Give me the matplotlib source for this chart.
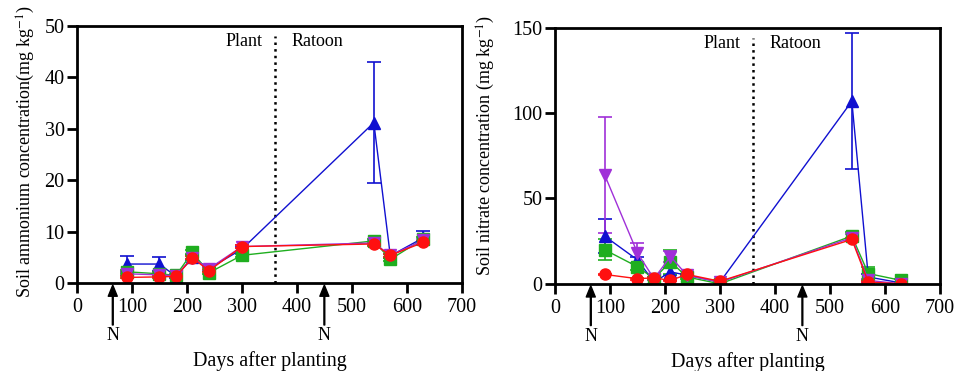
import numpy
import matplotlib
matplotlib.use("Agg")
from matplotlib import pyplot

# -----------------------------------------------------------------------------
# data
days = [90, 150, 180, 210, 240, 300, 540, 570, 630]

# soil ammonium (mg kg-1)
nh4_blue = [3.7, 3.7, 1.3, 5.0, 2.8, 6.6, 31.2, 5.3, 8.8]
nh4_blue_err = [1.5, 1.3, 0.3, 0.5, 0.4, 0.4, 11.8, 0.4, 1.3]
nh4_green = [2.2, 1.8, 1.5, 6.0, 2.0, 5.4, 8.2, 4.6, 8.6]
nh4_green_err = [0.4, 0.3, 0.3, 0.4, 0.3, 0.3, 0.4, 0.3, 0.4]
nh4_purple = [1.8, 1.6, 1.4, 4.9, 2.8, 7.1, 7.8, 5.4, 8.3]
nh4_purple_err = [0.3, 0.3, 0.3, 0.3, 0.3, 0.3, 0.3, 0.3, 0.3]
nh4_red = [1.1, 1.2, 1.3, 4.9, 2.4, 7.1, 7.6, 5.4, 7.9]
nh4_red_err = [0.2, 0.2, 0.2, 0.3, 0.3, 0.3, 0.3, 0.3, 0.3]

# soil nitrate (mg kg-1)
no3_blue = [28.0, 14.0, 1.0, 7.0, 5.0, 1.0, 107.0, 4.0, 0.5]
no3_blue_err = [10.0, 2.0, 1.0, 2.0, 1.0, 0.5, 40.0, 2.0, 0.5]
no3_green = [20.0, 10.0, 3.0, 13.0, 4.0, 0.0, 28.0, 6.0, 2.0]
no3_green_err = [6.0, 2.0, 1.0, 7.0, 1.0, 0.5, 2.5, 4.0, 1.0]
no3_purple = [64.0, 18.0, 3.0, 16.0, 5.0, 1.0, 27.0, 2.0, 0.0]
no3_purple_err = [34.0, 6.0, 1.0, 3.0, 1.0, 0.5, 2.0, 1.0, 0.5]
no3_red = [5.5, 3.0, 3.5, 2.0, 5.5, 1.5, 26.0, 1.0, 0.0]
no3_red_err = [0.5, 0.5, 0.5, 0.5, 0.5, 0.5, 1.0, 0.5, 0.5]

n_days = [65, 450]
season_split = 360

# -----------------------------------------------------------------------------
pyplot.rcParams['font.family'] = ['Liberation Serif', 'DejaVu Serif']
pyplot.rcParams['mathtext.fontset'] = 'stix'

fig = pyplot.figure(figsize=(9.57, 3.71), dpi=100)
ax1 = fig.add_axes([0.0805, 0.237, 0.402, 0.693])
ax2 = fig.add_axes([0.580, 0.235, 0.402, 0.690])


def draw(ax, series, ymax, ystep, ylabel, text_y):
    for y, e, col, mk in series:
        ax.errorbar(days, y, yerr=e, color=col, marker=mk, markersize=8,
                    linewidth=1.0, elinewidth=1.2, capsize=5, capthick=1.2)

    ax.set_xlim(0, 700)
    ax.set_ylim(0, ymax)
    ax.set_xticks(numpy.arange(0, 701, 100))
    ax.set_yticks(numpy.arange(0, ymax + 1, ystep))
    for s in ax.spines.values():
        s.set_linewidth(2.0)
    ax.tick_params(direction='out', length=7, width=2.0, labelsize=14.5)
    ax.tick_params(axis='x', pad=4)
    ax.tick_params(axis='y', pad=2)

    ax.axvline(season_split, ymin=0, ymax=0.96, color='k', linestyle=':',
               linewidth=1.8)
    ax.text(season_split - 22, text_y, 'Plant', ha='right', va='center',
            fontsize=13)
    ax.text(season_split + 30, text_y, 'Ratoon', ha='left', va='center',
            fontsize=13)

    # fertiliser N application arrows
    for nd in n_days:
        ax.annotate('', xy=(nd, -0.008), xytext=(nd, -0.163),
                    xycoords=('data', 'axes fraction'),
                    textcoords=('data', 'axes fraction'),
                    arrowprops=dict(facecolor='k', edgecolor='k', width=0.6,
                                    headwidth=6.5, headlength=8, shrink=0),
                    annotation_clip=False)
        ax.text(nd, -0.205, 'N', transform=ax.get_xaxis_transform(),
                ha='center', va='center', fontsize=13)

    ax.set_xlabel('Days after planting', fontsize=14.5)
    ax.set_ylabel(ylabel, fontsize=13)


blue, green, purple, red = '#1010d0', '#1fae1f', '#a030d8', '#ff1010'

draw(ax1, [
    (nh4_blue, nh4_blue_err, blue, '^'),
    (nh4_green, nh4_green_err, green, 's'),
    (nh4_purple, nh4_purple_err, purple, 'v'),
    (nh4_red, nh4_red_err, red, 'o'),
], 50, 10, 'Soil ammonium concentration(mg kg$^{-1}$)', 46.9)

draw(ax2, [
    (no3_blue, no3_blue_err, blue, '^'),
    (no3_green, no3_green_err, green, 's'),
    (no3_purple, no3_purple_err, purple, 'v'),
    (no3_red, no3_red_err, red, 'o'),
], 150, 50, 'Soil nitrate concentration (mg kg$^{-1}$)', 141)

ax1.yaxis.set_label_coords(-0.105, 0.51)
ax2.yaxis.set_label_coords(-0.15, 0.54)
ax1.xaxis.set_label_coords(0.5, -0.265)
ax2.xaxis.set_label_coords(0.5, -0.265)

pyplot.savefig('out.png', dpi=100)
